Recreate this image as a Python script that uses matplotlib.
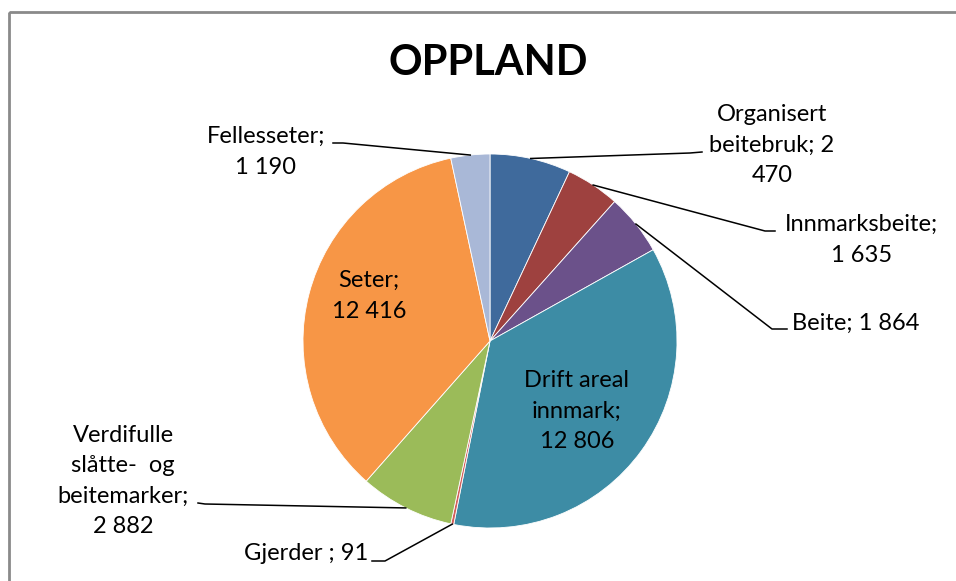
import numpy as np
import matplotlib.pyplot as plt
from matplotlib.patches import Rectangle

plt.rcParams['font.family'] = ['Lato', 'DejaVu Sans']

# area per category, clockwise from 12 o'clock
categories = ['Organisert beitebruk', 'Innmarksbeite', 'Beite', 'Drift areal innmark',
              'Gjerder ', 'Verdifulle slåtte-  og beitemarker', 'Seter', 'Fellesseter']
values = [2470, 1635, 1864, 12806, 91, 2882, 12416, 1190]
colors = ['#3F6A9C', '#9E413F', '#6B518A', '#3D8CA5', '#D25F5C', '#9BBB59', '#F79646', '#A9B8D7']

# label text broken the way the chart wraps it
label_texts = ['Organisert\nbeitebruk; 2\n470', 'Innmarksbeite;\n1 635', 'Beite; 1 864',
               'Drift areal\ninnmark;\n12 806', 'Gjerder ; 91',
               'Verdifulle\nslåtte-  og\nbeitemarker;\n2 882', 'Seter;\n12 416', 'Fellesseter;\n1 190']

W, H = 956, 581
fig = plt.figure(figsize=(W / 100, H / 100), dpi=100)

cx, cy, r = 490, 341, 187
# pie drawn in an axes sized to the pie radius (y up inside it)
pax = fig.add_axes([(cx - r) / W, 1 - (cy + r) / H, 2 * r / W, 2 * r / H])
pax.pie(values, colors=colors, startangle=90, counterclock=False, radius=1,
        wedgeprops=dict(linewidth=0.6, edgecolor='white'))
pax.set_xlim(-1, 1)
pax.set_ylim(-1, 1)
pax.axis('off')

# overlay axes in pixel units for frame, title, labels and leader lines
ax = fig.add_axes([0, 0, 1, 1])
ax.set_xlim(0, W)
ax.set_ylim(H, 0)
ax.axis('off')

ax.add_patch(Rectangle((9, 12), 960, 600, fill=False, edgecolor='#8A8A8A', linewidth=2))

ax.text(488, 63, 'OPPLAND', ha='center', va='center', fontsize=30, fontweight='bold')

# mid angle of each slice, used for leader anchors
fr = np.array(values) / sum(values)
ends = np.cumsum(fr) * 360
mids = ends - fr * 180
ang = np.deg2rad(90 - mids)
ax_pts = cx + r * np.cos(ang)
ay_pts = cy - r * np.sin(ang)

fs = 17
ls = 1.55
# outside labels: (text pos, align, leader elbow, leader end)
outside = {
    0: ((772, 145), 'center', (690, 153), (702, 152)),
    1: ((862, 240), 'center', (765, 231), (775, 231)),
    2: ((792, 323), 'left', (772, 329), (787, 329)),
    4: ((306, 553), 'center', (385, 561), (372, 561)),
    5: ((123, 481), 'center', (205, 504), (198, 503)),
    7: ((266, 152), 'center', (343, 143), (333, 143)),
}
for i, (pos, ha, elbow, end) in outside.items():
    ax.text(pos[0], pos[1], label_texts[i], ha=ha, va='center', fontsize=fs,
            linespacing=ls)
    ax.plot([ax_pts[i], elbow[0], end[0]], [ay_pts[i], elbow[1], end[1]],
            color='black', linewidth=1.1)

# labels inside the two large slices
ax.text(369, 296, label_texts[6], ha='center', va='center', fontsize=fs, linespacing=ls)
ax.text(577, 411, label_texts[3], ha='center', va='center', fontsize=fs, linespacing=ls)

fig.savefig('out.png', dpi=100, facecolor='white')
